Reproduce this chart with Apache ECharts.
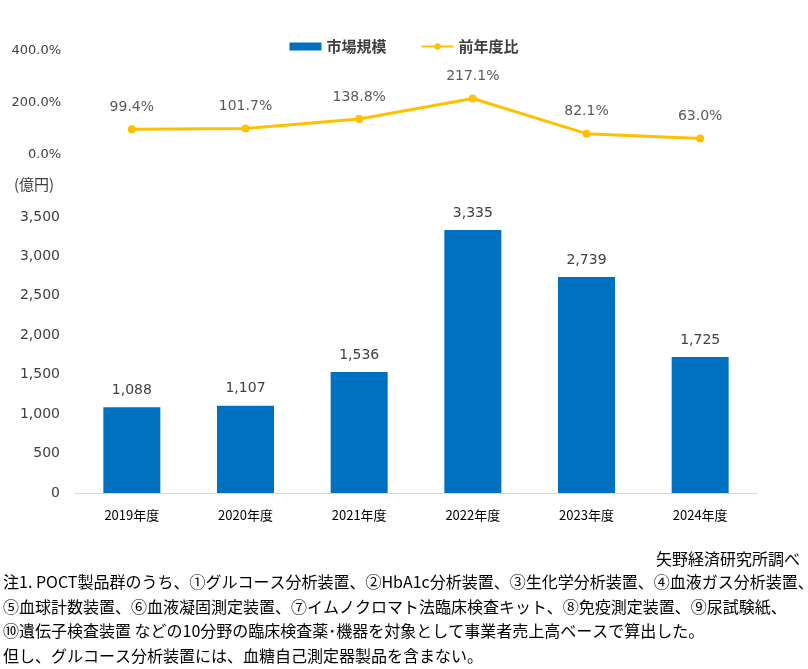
<!DOCTYPE html>
<html>
<head>
<meta charset="utf-8">
<script src="https://cdn.jsdelivr.net/npm/echarts@6/dist/echarts.min.js"></script>
<style>
  html, body { margin: 0; padding: 0; background: #fff; }
  #main { width: 808px; height: 669px; }
</style>
</head>
<body>
<div id="main"></div>
<script>
// 年度
const years = ['2019年度', '2020年度', '2021年度', '2022年度', '2023年度', '2024年度'];
// 市場規模（億円）
const marketSize = [1088, 1107, 1536, 3335, 2739, 1725];
// 前年度比（%）
const yoyRatio = [99.4, 101.7, 138.8, 217.1, 82.1, 63.0];
// 注記
const sourceText = '矢野経済研究所調べ';
const noteLines = [
    '注1. POCT製品群のうち、①グルコース分析装置、②HbA1c分析装置、③生化学分析装置、④血液ガス分析装置、',
    '⑤血球計数装置、⑥血液凝固測定装置、⑦イムノクロマト法臨床検査キット、⑧免疫測定装置、⑨尿試験紙、',
    '⑩遺伝子検査装置 などの10分野の臨床検査薬･機器を対象として事業者売上高ベースで算出した。',
    '但し、グルコース分析装置には、血糖自己測定器製品を含まない。'
];

const numFont = 'DejaVu Sans, Noto Sans CJK JP';
const jpFont = 'Noto Sans CJK JP';

const chart = echarts.init(document.getElementById('main'));

// 注記はgraphicで描く
const graphics = [{
    type: 'text', left: 14, top: 177,
    style: { text: '(億円)', font: '15px ' + jpFont, fill: '#404040' }
}, {
    type: 'text', right: 8, top: 551,
    style: { text: sourceText, font: '16px ' + jpFont, fill: '#000' }
}];
noteLines.forEach((t, i) => {
    graphics.push({
        type: 'text', left: 3, top: 574 + i * 24.7,
        style: { text: t, font: '16px ' + jpFont, fill: '#000' }
    });
});

const option = {
    animation: false,
    legend: {
        top: 34,
        left: 'center',
        itemGap: 34,
        itemWidth: 32,
        itemHeight: 8,
        textStyle: { fontFamily: jpFont, fontSize: 15, fontWeight: 'bold', color: '#404040' },
        data: [{ name: '市場規模', icon: 'rect' }, { name: '前年度比' }]
    },
    grid: [
        { left: 75, right: 51, top: 51, height: 104 },
        { left: 75, right: 51, top: 217, height: 276 }
    ],
    xAxis: [{
        type: 'category', gridIndex: 0, data: years, show: false
    }, {
        type: 'category', gridIndex: 1, data: years,
        axisLine: { lineStyle: { color: '#d9d9d9', width: 1 } },
        axisTick: { show: false },
        axisLabel: { margin: 16, fontFamily: jpFont, fontSize: 13, color: '#000' }
    }],
    yAxis: [{
        type: 'value', gridIndex: 0, min: 0, max: 400, interval: 200,
        splitLine: { show: false },
        axisLabel: {
            margin: 14, fontFamily: numFont, fontSize: 13, color: '#404040',
            formatter: v => v.toFixed(1) + '%'
        }
    }, {
        type: 'value', gridIndex: 1, min: 0, max: 3500, interval: 500,
        splitLine: { show: false },
        axisLabel: {
            margin: 15, fontFamily: numFont, fontSize: 14, color: '#404040',
            formatter: v => v.toLocaleString('en-US')
        }
    }],
    series: [{
        name: '市場規模',
        type: 'bar',
        xAxisIndex: 1,
        yAxisIndex: 1,
        data: marketSize,
        barWidth: 57,
        itemStyle: { color: '#0070C0' },
        label: {
            show: true, position: 'top', distance: 10,
            fontFamily: numFont, fontSize: 14, color: '#404040',
            formatter: p => p.value.toLocaleString('en-US')
        }
    }, {
        name: '前年度比',
        type: 'line',
        xAxisIndex: 0,
        yAxisIndex: 0,
        data: yoyRatio,
        symbol: 'circle',
        symbolSize: 8,
        lineStyle: { color: '#FFC000', width: 3 },
        itemStyle: { color: '#FFC000' },
        label: {
            show: true, position: 'top', distance: 11,
            fontFamily: numFont, fontSize: 14, color: '#595959',
            formatter: p => p.value.toFixed(1) + '%'
        }
    }],
    graphic: graphics
};

chart.setOption(option);
</script>
</body>
</html>
